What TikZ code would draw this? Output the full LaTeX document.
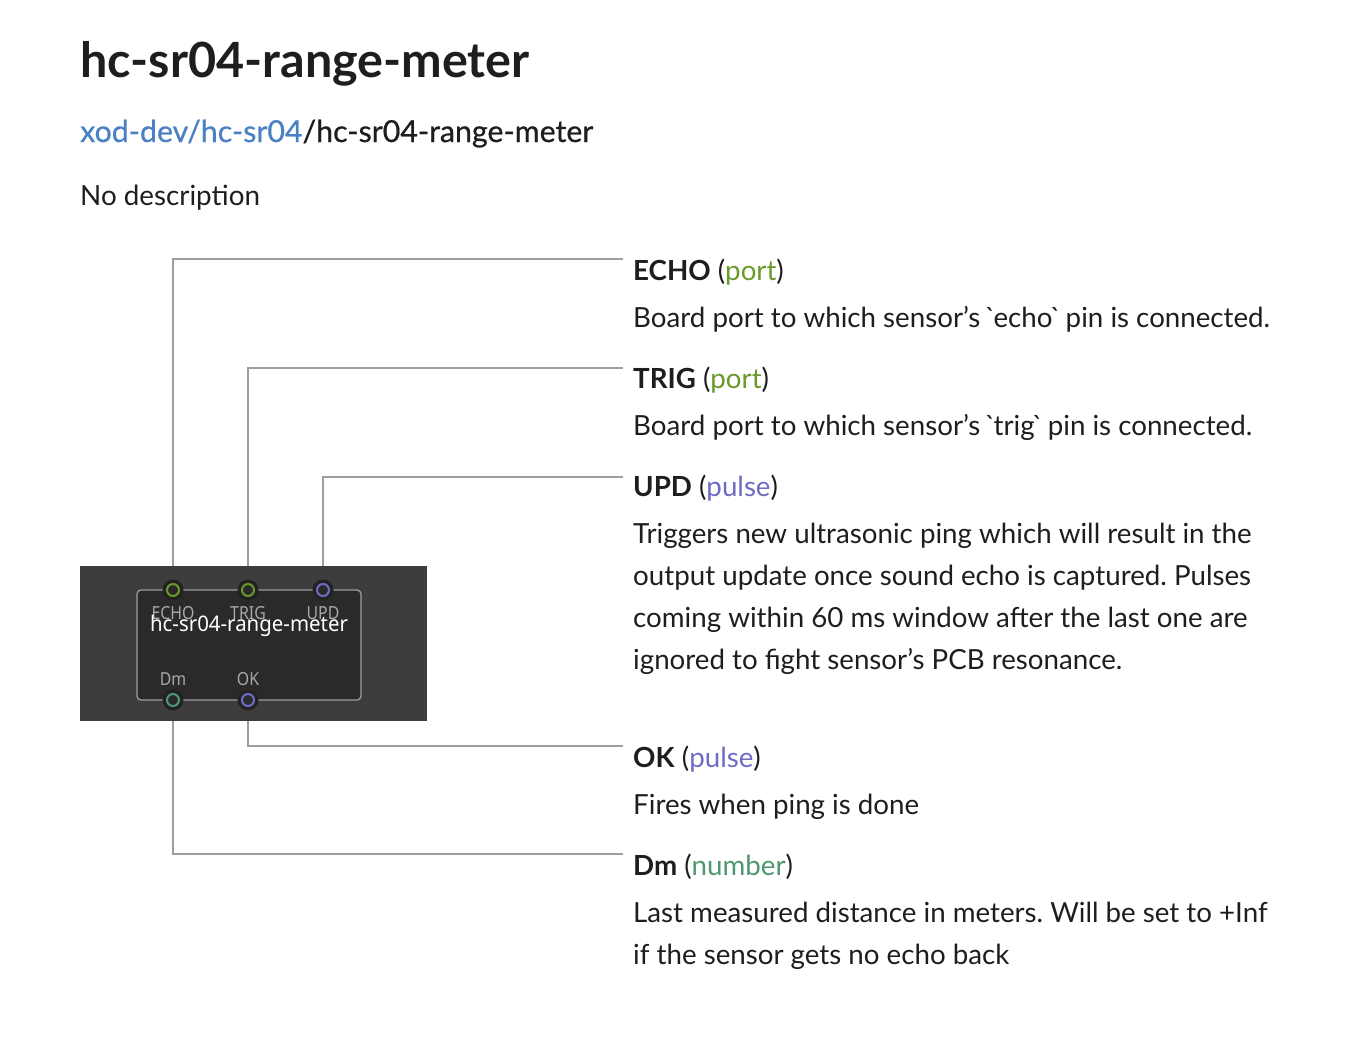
\documentclass[tikz,border=0pt]{standalone}
\usepackage{fontspec}
\setmainfont{Lato}
\newfontfamily\gfont{Lato}
\newfontfamily\nodefont{Noto Sans}
\newcommand{\bq}{\kern-2.5pt{\gfont\char96}\kern-2.5pt}
\frenchspacing
\definecolor{portc}{HTML}{6A9A2A}
\definecolor{pulsec}{HTML}{6E6CC4}
\definecolor{numc}{HTML}{4F9770}
\definecolor{linkc}{HTML}{4A80C4}
\definecolor{wire}{HTML}{9E9E9E}
\definecolor{outerbg}{HTML}{3D3D3D}
\definecolor{innerbg}{HTML}{2A2A2A}
\definecolor{txt}{HTML}{1E1E1E}
\tikzset{
  wireline/.style={draw=wire, line width=1.4pt},
  title/.style={anchor=base west, inner sep=0pt, font=\fontsize{27.7}{32}\selectfont, text=txt},
  desc/.style={anchor=base west, inner sep=0pt, align=left, font=\fontsize{27.7}{42}\selectfont, text=txt},
  pinlabel/.style={inner sep=0pt, text=wire!90!white, font=\nodefont\fontsize{18}{18}\selectfont, xscale=0.88},
  pinhalo/.style={circle, fill=innerbg!80!black, minimum size=21pt, inner sep=0pt},
}
\begin{document}
\frenchspacing
\begin{tikzpicture}[x=1pt,y=-1pt]
\useasboundingbox (0,0) rectangle (1350,1058);
\fill[white] (0,0) rectangle (1350,1058);

% header
\node[anchor=base west, inner sep=0pt, font=\bfseries\fontsize{48.5}{56}\selectfont, text=txt] (hdr) at (80,77) {hc-sr04-range-meter};
\node[anchor=base west, inner sep=0pt, font=\addfontfeature{FakeBold=0.6}\fontsize{30.3}{34}\selectfont, text=txt] (path) at (80,142) {\textcolor{linkc}{xod-dev/hc-sr04}/hc-sr04-range-meter};
\node[anchor=base west, inner sep=0pt, font=\fontsize{27.8}{32}\selectfont, text=txt] (nodesc) at (80,205) {No description};

% coordinates for wire ends
\coordinate (eEcho) at (623,259);
\coordinate (eTrig) at (623,368);
\coordinate (eUpd) at (623,477);
\coordinate (eOk) at (623,746);
\coordinate (eDm) at (623,854);

% pins positions
\coordinate (pEcho) at (173,590);
\coordinate (pTrig) at (248,590);
\coordinate (pUpd) at (323,590);
\coordinate (pDm) at (173,700);
\coordinate (pOk) at (248,700);

% wires
\draw[wireline] (pEcho) |- (eEcho);
\draw[wireline] (pTrig) |- (eTrig);
\draw[wireline] (pUpd) |- (eUpd);
\draw[wireline] (pOk) |- (eOk);
\draw[wireline] (pDm) |- (eDm);

% node box
\fill[outerbg] (80,566) rectangle (427,721);
\draw[fill=innerbg, draw=wire, line width=1.3pt, rounded corners=4pt] (137,590) rectangle (361,700);
\node[pinlabel] (lEcho) at (173,613) {ECHO};
\node[pinlabel] (lTrig) at (248,613) {TRIG};
\node[pinlabel] (lUpd) at (323,613) {UPD};
\node[pinlabel] (lDm) at (173,679) {Dm};
\node[pinlabel] (lOk) at (248,679) {OK};
\node[inner sep=0pt, text=white, font=\nodefont\fontsize{21.5}{21.5}\selectfont, xscale=0.95] (ntitle) at (249,626) {hc-sr04-range-meter};

\foreach \p/\c in {pEcho/portc, pTrig/portc, pUpd/pulsec, pDm/numc, pOk/pulsec}{
  \node[pinhalo] at (\p) {};
  \draw[draw=\c, line width=2pt, fill=innerbg] (\p) circle (6pt);
}

% texts
\node[title] (tEcho) at (633,280) {\textbf{ECHO} (\textcolor{portc}{port})};
\node[desc] (dEcho) at (633,327) {Board port to which sensor’s \bq echo\bq\ pin is connected.};
\node[title] (tTrig) at (633,388) {\textbf{TRIG} (\textcolor{portc}{port})};
\node[desc] (dTrig) at (633,435) {Board port to which sensor’s \bq trig\bq\ pin is connected.};
\node[title] (tUpd) at (633,496) {\textbf{UPD} (\textcolor{pulsec}{pulse})};
\node[desc] (dUpd) at (633,669) {Triggers new ultrasonic ping which will result in the\\output update once sound echo is captured. Pulses\\coming within 60 ms window after the last one are\\ignored to fight sensor’s PCB resonance.};
\node[title] (tOk) at (633,767) {\textbf{OK} (\textcolor{pulsec}{pulse})};
\node[desc] (dOk) at (633,814) {Fires when ping is done};
\node[title] (tDm) at (633,875) {\textbf{Dm} (\textcolor{numc}{number})};
\node[desc] (dDm) at (633,964) {Last measured distance in meters. Will be set to +Inf\\if the sensor gets no echo back};
\end{tikzpicture}
\end{document}
